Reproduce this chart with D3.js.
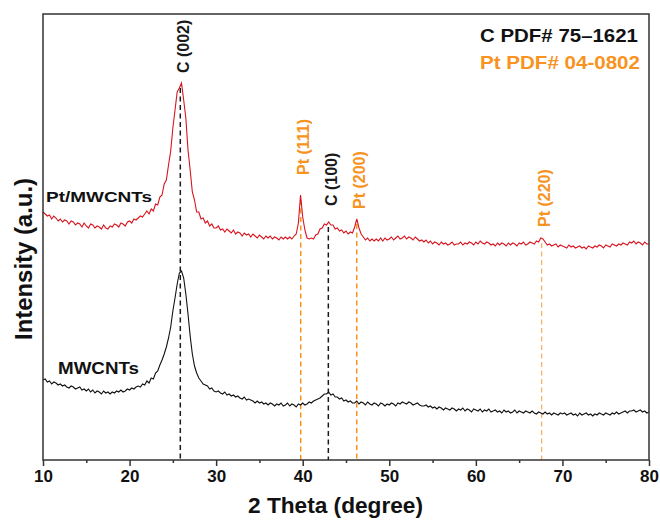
<!DOCTYPE html>
<html>
<head>
<meta charset="utf-8">
<script src="https://cdn.jsdelivr.net/npm/d3@7"></script>
<style>
  body { margin: 0; background: #fff; }
  text { font-family: "Liberation Sans", Arial, sans-serif; font-weight: bold; }
</style>
</head>
<body>
<div id="chart"></div>
<script>
// 2 theta grid: 10 to 80 degrees, 0.25 step
var thetaStart = 10, thetaStep = 0.25;

// Pt/MWCNTs (red), a.u.
var ptMwcnts = [
  248, 246, 244, 245, 241, 244, 242, 239, 241, 238, 240, 239, 236, 239, 238, 235,
  237, 236, 233, 237, 234, 232, 236, 235, 232, 234, 233, 231, 235, 232, 231, 234,
  233, 236, 235, 233, 237, 236, 234, 238, 239, 237, 241, 240, 242, 244, 243, 246,
  249, 246, 251, 249, 256, 255, 263, 265, 276, 280, 295, 309, 332, 350, 368, 372,
  377, 360, 342, 310, 290, 268, 260, 248, 248, 241, 242, 237, 239, 234, 236, 232,
  232, 234, 230, 231, 228, 231, 229, 227, 230, 226, 228, 227, 224, 227, 225, 226,
  223, 226, 224, 222, 225, 223, 221, 224, 222, 224, 221, 223, 222, 220, 223, 221,
  223, 221, 223, 221, 224, 226, 237, 265, 243, 230, 222, 221, 222, 221, 225, 226,
  231, 232, 236, 235, 238, 235, 235, 231, 232, 229, 230, 227, 229, 226, 228, 227,
  233, 241, 232, 226, 223, 220, 222, 219, 221, 219, 221, 219, 222, 219, 222, 220,
  221, 223, 220, 222, 224, 221, 222, 224, 221, 223, 222, 220, 223, 221, 219, 220,
  218, 220, 217, 219, 216, 218, 217, 215, 218, 216, 217, 215, 216, 218, 215, 216,
  216, 218, 215, 217, 216, 218, 217, 215, 218, 216, 219, 217, 216, 218, 217, 215,
  216, 214, 217, 215, 217, 216, 214, 217, 215, 217, 216, 214, 217, 216, 218, 215,
  216, 218, 217, 216, 219, 218, 222, 221, 218, 215, 216, 214, 215, 216, 213, 215,
  214, 213, 212, 215, 213, 214, 212, 213, 214, 212, 213, 211, 214, 213, 212, 214,
  213, 215, 214, 212, 215, 214, 213, 216, 215, 214, 216, 215, 217, 216, 215, 218,
  217, 219, 216, 218, 217, 215, 218, 216, 216
];

// MWCNTs (black), a.u.
var mwcnts = [
  80, 81, 78, 79, 76, 78, 77, 75, 76, 74, 75, 73, 72, 74, 73, 71,
  72, 73, 70, 71, 69, 71, 68, 70, 67, 69, 68, 66, 69, 67, 68, 66,
  68, 67, 69, 68, 70, 68, 69, 71, 70, 72, 71, 73, 74, 73, 76, 75,
  79, 77, 82, 81, 87, 89, 95, 100, 106, 113, 122, 133, 149, 162, 176, 187,
  189, 182, 166, 146, 124, 106, 94, 87, 82, 79, 76, 75, 74, 71, 72, 69,
  68, 69, 67, 66, 68, 65, 66, 64, 65, 63, 64, 62, 61, 63, 60, 61,
  60, 59, 57, 59, 57, 58, 56, 57, 55, 57, 56, 54, 56, 55, 57, 54,
  55, 57, 54, 56, 55, 53, 56, 55, 57, 55, 56, 58, 57, 59, 60, 61,
  62, 64, 66, 66, 68, 65, 66, 63, 63, 61, 62, 59, 60, 58, 59, 57,
  57, 59, 56, 58, 57, 55, 58, 56, 55, 57, 56, 54, 57, 56, 54, 56,
  55, 57, 56, 54, 57, 56, 58, 57, 56, 58, 57, 55, 56, 57, 55, 54,
  54, 55, 53, 54, 52, 53, 51, 53, 52, 50, 52, 51, 50, 52, 51, 49,
  51, 50, 52, 49, 51, 50, 48, 51, 50, 49, 51, 48, 50, 49, 51, 48,
  49, 50, 48, 49, 47, 50, 48, 49, 47, 48, 50, 47, 49, 48, 47, 49,
  48, 47, 49, 47, 46, 48, 47, 46, 48, 46, 47, 45, 47, 46, 45, 47,
  46, 47, 45, 46, 47, 45, 46, 44, 47, 45, 46, 47, 45, 46, 44, 46,
  45, 47, 46, 45, 47, 46, 45, 47, 46, 48, 46, 47, 48, 49, 47, 49,
  49, 50, 48, 49, 50, 48, 49, 47, 48
];

// reference reflections
var peakNames = ["C (002)", "Pt (111)", "C (100)", "Pt (200)", "Pt (220)"];
var peakTheta = [25.86, 39.77, 42.96, 46.24, 67.6];
var peakPhase = ["C", "Pt", "C", "Pt", "Pt"];

var xTicks = [10, 20, 30, 40, 50, 60, 70, 80];
var xMinorTicks = [15, 25, 35, 45, 55, 65, 75];
var legendLines = ["C PDF# 75\u20131621", "Pt PDF# 04-0802"];

(function() {
  var width = 660, height = 521;
  var margin = {top: 14, right: 11, bottom: 61, left: 43};
  var orange = "#f7931e";
  var phaseColor = {C: "#1a1a1a", Pt: orange};
  // gap between a peak top and the bottom of its label
  var labelGap = [10, 20, 16, 10, 11];

  var svg = d3.select("#chart").append("svg")
    .attr("width", width)
    .attr("height", height);

  var x = d3.scaleLinear()
    .domain([10, 80])
    .range([margin.left, width - margin.right]);
  var y = d3.scaleLinear()
    .domain([0, 446])
    .range([height - margin.bottom, margin.top]);

  var toPoints = function(arr) {
    return arr.map(function(v, i) { return [thetaStart + i * thetaStep, v]; });
  };
  var red = toPoints(ptMwcnts), black = toPoints(mwcnts);

  // highest red point near a reflection, used to place its label
  var peakTop = function(t) {
    return d3.max(red.filter(function(d) { return Math.abs(d[0] - t) <= 0.4; }), function(d) { return d[1]; });
  };

  // dashed reference lines
  svg.append("g").selectAll("line")
    .data(peakTheta)
    .enter().append("line")
    .attr("x1", function(d) { return x(d); })
    .attr("x2", function(d) { return x(d); })
    .attr("y1", function(d) { return y(peakTop(d)) + 5; })
    .attr("y2", y(0))
    .attr("stroke", function(d, i) { return phaseColor[peakPhase[i]]; })
    .attr("stroke-width", function(d, i) { return i === 4 ? 1.2 : 1.5; })
    .attr("stroke-opacity", function(d, i) { return i === 4 ? 0.75 : 1; })
    .attr("stroke-dasharray", "5,3.5");

  var line = d3.line()
    .x(function(d) { return x(d[0]); })
    .y(function(d) { return y(d[1]); });

  svg.append("path")
    .datum(black)
    .attr("fill", "none")
    .attr("stroke", "#111")
    .attr("stroke-width", 1.1)
    .attr("d", line);

  svg.append("path")
    .datum(red)
    .attr("fill", "none")
    .attr("stroke", "#d7141e")
    .attr("stroke-width", 1.1)
    .attr("d", line);

  // peak labels, rotated
  svg.append("g").selectAll("text")
    .data(peakTheta)
    .enter().append("text")
    .attr("transform", function(d, i) {
      return "translate(" + (x(d) + 8.5) + "," + (y(peakTop(d)) - labelGap[i]) + ") rotate(-90)";
    })
    .attr("font-size", 16)
    .attr("fill", function(d, i) { return phaseColor[peakPhase[i]]; })
    .text(function(d, i) { return peakNames[i]; });

  // axes
  var axisY = height - margin.bottom;
  var xAxis = svg.append("g")
    .attr("transform", "translate(0," + axisY + ")")
    .call(d3.axisBottom(x).tickValues(xTicks).tickSize(6).tickPadding(4));
  xAxis.select(".domain").remove();
  xAxis.selectAll("line").attr("stroke", "#333").attr("stroke-width", 1.5);
  xAxis.selectAll("text")
    .attr("font-size", 17)
    .attr("font-family", "Liberation Sans, Arial, sans-serif")
    .attr("font-weight", "bold")
    .attr("fill", "#111");

  var xMinor = svg.append("g")
    .attr("transform", "translate(0," + axisY + ")")
    .call(d3.axisBottom(x).tickValues(xMinorTicks).tickSize(3).tickFormat(""));
  xMinor.select(".domain").remove();
  xMinor.selectAll("line").attr("stroke", "#333").attr("stroke-width", 1.5);

  // frame
  svg.append("rect")
    .attr("x", margin.left)
    .attr("y", margin.top)
    .attr("width", width - margin.left - margin.right)
    .attr("height", height - margin.top - margin.bottom)
    .attr("fill", "none")
    .attr("stroke", "#333")
    .attr("stroke-width", 1.5);

  // axis titles
  svg.append("text")
    .attr("x", 248)
    .attr("y", 513)
    .attr("font-size", 22)
    .attr("textLength", 175)
    .attr("lengthAdjust", "spacingAndGlyphs")
    .attr("fill", "#111")
    .text("2 Theta (degree)");

  svg.append("text")
    .attr("transform", "translate(31.5,259) rotate(-90)")
    .attr("text-anchor", "middle")
    .attr("font-size", 24)
    .attr("textLength", 162)
    .attr("lengthAdjust", "spacingAndGlyphs")
    .attr("fill", "#111")
    .text("Intensity (a.u.)");

  // sample names
  svg.append("text")
    .attr("x", x(10) + 3)
    .attr("y", y(ptMwcnts[0]) - 10.5)
    .attr("font-size", 15.5)
    .attr("textLength", 106)
    .attr("lengthAdjust", "spacingAndGlyphs")
    .attr("fill", "#111")
    .text("Pt/MWCNTs");

  svg.append("text")
    .attr("x", x(10) + 15)
    .attr("y", y(mwcnts[0]) - 6.5)
    .attr("font-size", 16)
    .attr("textLength", 81)
    .attr("lengthAdjust", "spacingAndGlyphs")
    .attr("fill", "#111")
    .text("MWCNTs");

  // PDF card legend
  svg.append("g").selectAll("text")
    .data(legendLines)
    .enter().append("text")
    .attr("x", 480)
    .attr("y", function(d, i) { return 41.5 + i * 27; })
    .attr("font-size", 19)
    .attr("textLength", function(d, i) { return i === 0 ? 158 : 160; })
    .attr("lengthAdjust", "spacingAndGlyphs")
    .attr("fill", function(d, i) { return i === 0 ? "#111" : orange; })
    .text(function(d) { return d; });
})();
</script>
</body>
</html>
